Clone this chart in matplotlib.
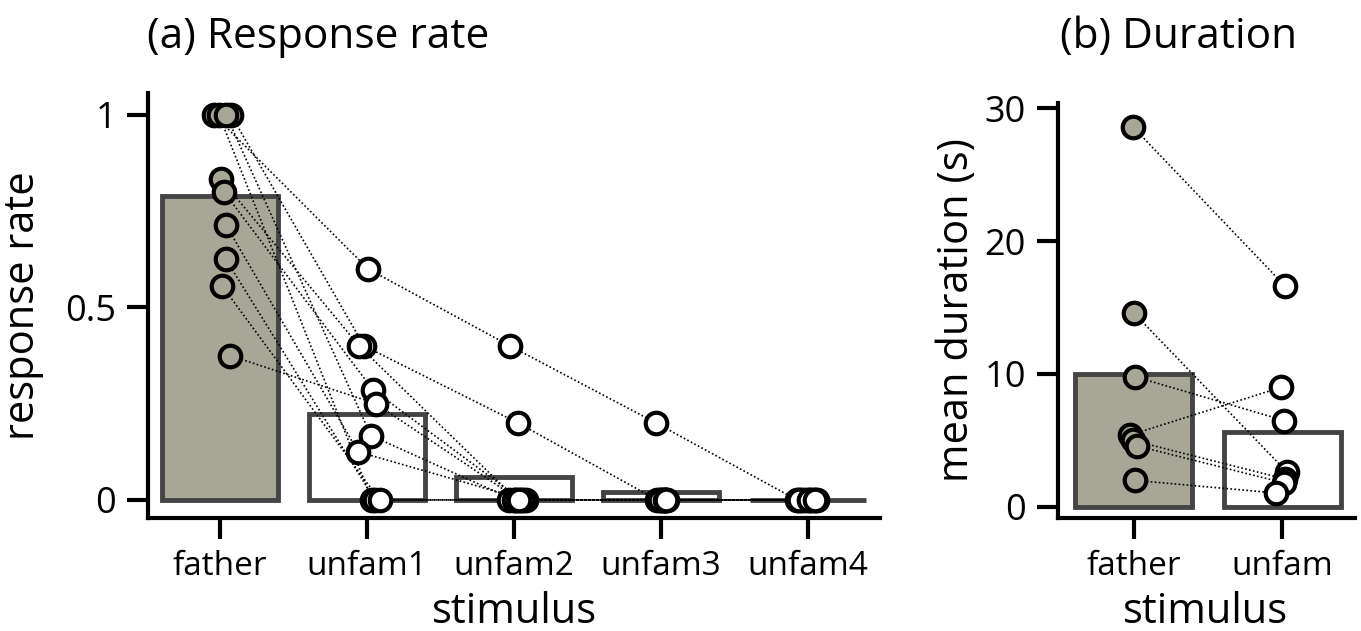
import matplotlib
matplotlib.use("Agg")
import matplotlib.pyplot as plt
import numpy as np

plt.rcParams['font.family'] = ['Open Sans', 'DejaVu Sans']

# ---------------- data: panel (a) ----------------
stimuli_a = ["father", "unfam1", "unfam2", "unfam3", "unfam4"]
father_rate = [1.0, 1.0, 1.0, 1.0, 0.833, 0.8, 0.714, 0.625, 0.556, 0.375]
unfam1_rate = [0.6, 0.4, 0.0, 0.167, 0.4, 0.286, 0.125, 0.0, 0.0, 0.25]
unfam2_rate = [0.4, 0.2, 0.0, 0.0, 0.0, 0.0, 0.0, 0.0, 0.0, 0.0]
unfam3_rate = [0.2, 0.0, 0.0, 0.0, 0.0, 0.0, 0.0, 0.0, 0.0, 0.0]
unfam4_rate = [0.0, 0.0, 0.0, 0.0, 0.0, 0.0, 0.0, 0.0, 0.0, 0.0]
# horizontal jitter of the points
father_jit = [-0.041, 0.075, -0.007, 0.041, 0.007, 0.027, 0.04, 0.04, 0.014, 0.068]
unfam1_jit = [0.007, -0.02, 0.034, 0.027, -0.054, 0.04, -0.06, 0.054, 0.085, 0.06]
unfam2_jit = [-0.027, 0.027, -0.034, 0.0, 0.02, 0.05, 0.08, 0.01, 0.06, 0.035]
unfam3_jit = [-0.034, -0.027, 0.0, 0.02, 0.04, 0.01, 0.03, -0.01, 0.025, 0.035]
unfam4_jit = [-0.075, -0.05, -0.03, 0.0, 0.02, 0.04, 0.06, -0.06, 0.01, 0.05]

# ---------------- data: panel (b) ----------------
stimuli_b = ["father", "unfam"]
father_dur = [28.6, 14.6, 9.8, 5.4, 5.0, 4.6, 2.0]
unfam_dur = [16.6, 2.6, 6.5, 9.0, 2.1, 1.8, 1.05]
father_dur_jit = [-0.007, 0.0, 0.007, -0.027, -0.007, 0.02, 0.007]
unfam_dur_jit = [0.02, 0.034, 0.014, -0.007, 0.02, 0.014, -0.04]

FATHER_COL = "#a8a697"
EDGE_COL = "#444444"
W, H = 1361, 631

fig = plt.figure(figsize=(W / 100, H / 100), dpi=100)


def fx(px):
    return px / W


def fy(py):
    return 1 - py / H


axA = fig.add_axes([fx(148), fy(518), fx(880 - 148), (518 - 93) / H])
axB = fig.add_axes([fx(1058), fy(518), fx(1355 - 1058), (518 - 103) / H])


def draw_panel(ax, names, values, jitters):
    n = len(names)
    xs = np.arange(n)
    means = [np.mean(v) for v in values]
    faces = [FATHER_COL] + ["white"] * (n - 1)
    ax.bar(xs, means, width=0.79, color=faces, edgecolor=EDGE_COL,
           linewidth=3.5, zorder=1)
    vals = np.array(values)
    jits = np.array(jitters)
    xpos = xs[:, None] + jits
    for s in range(vals.shape[1]):
        ax.plot(xpos[:, s], vals[:, s], color="black", lw=1.2,
                linestyle=(0, (1, 1.4)), zorder=2)
    for i in range(n):
        ax.plot(xpos[i], vals[i], linestyle="none", marker="o",
                markersize=15.5, markeredgewidth=3.0,
                markerfacecolor=faces[i], markeredgecolor="black", zorder=3)
    ax.set_xticks(xs)
    ax.set_xticklabels(names, fontsize=24)
    for side in ("top", "right"):
        ax.spines[side].set_visible(False)
    for side in ("left", "bottom"):
        ax.spines[side].set_linewidth(3)
    ax.tick_params(direction="out", length=15, width=3)
    ax.tick_params(axis="x", pad=8)
    ax.tick_params(axis="y", labelsize=26, pad=8)


draw_panel(axA, stimuli_a,
           [father_rate, unfam1_rate, unfam2_rate, unfam3_rate, unfam4_rate],
           [father_jit, unfam1_jit, unfam2_jit, unfam3_jit, unfam4_jit])
axA.set_xlim(-0.49, 4.49)
axA.set_ylim(-0.047, 1.057)
axA.set_yticks([0, 0.5, 1])
axA.set_yticklabels(["0", "0.5", "1"])
axA.set_ylabel("response rate", fontsize=30)
axA.yaxis.set_label_coords(-0.142, 0.5)
axA.set_xlabel("stimulus", fontsize=30, va="top")
axA.xaxis.set_label_coords(0.501, -0.172)

draw_panel(axB, stimuli_b, [father_dur, unfam_dur],
           [father_dur_jit, unfam_dur_jit])
axB.set_xlim(-0.51, 1.49)
axB.set_ylim(-0.83, 30.38)
axB.set_yticks([0, 10, 20, 30])
axB.set_ylabel("mean duration (s)", fontsize=30)
axB.yaxis.set_label_coords(-0.27, 0.5)
axB.set_xlabel("stimulus", fontsize=30, va="top")
axB.xaxis.set_label_coords(0.495, -0.176)

fig.text(fx(147), fy(48), "(a) Response rate", fontsize=30.5, va="baseline", ha="left")
fig.text(fx(1060), fy(48), "(b) Duration", fontsize=30.5, va="baseline", ha="left")

fig.savefig("out.png", dpi=100)
